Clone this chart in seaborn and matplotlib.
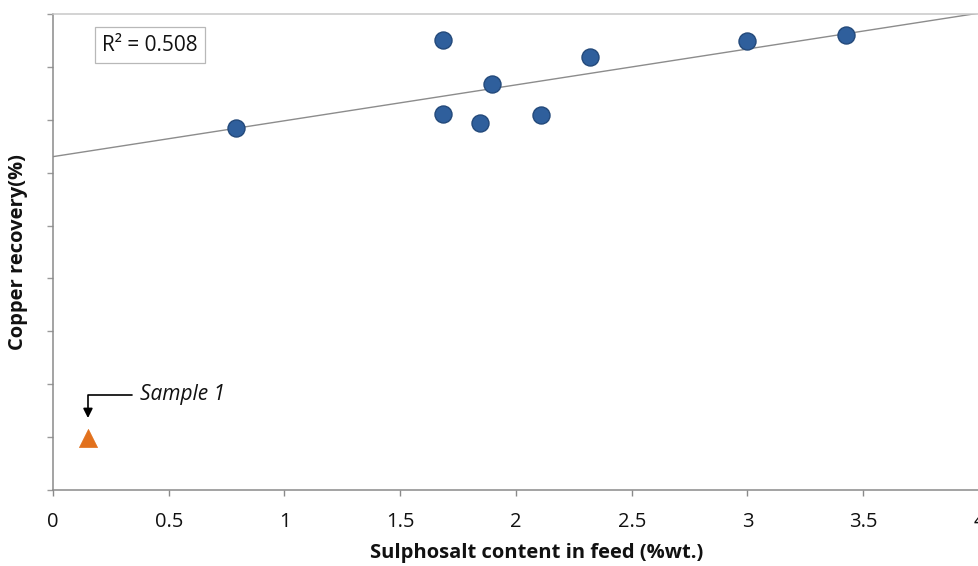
import numpy as np
import pandas as pd
import matplotlib
matplotlib.use("Agg")
import matplotlib.pyplot as plt
import seaborn as sns

# Sulphosalt content in feed (%wt.) and copper recovery (%) for the sample set
sulphosalt = [0.79, 1.685, 1.685, 1.845, 1.896, 2.108, 2.32, 3.0, 3.425]
recovery = [68.4, 85.1, 71.1, 69.4, 76.8, 70.9, 81.9, 84.9, 86.0]

# Outlier sample, excluded from the fit
sample1_x = [0.151]
sample1_y = [9.8]
sample1_label = "Sample 1"

x_ticks = [0, 0.5, 1, 1.5, 2, 2.5, 3, 3.5, 4]
x_tick_labels = ["0", "0.5", "1", "1.5", "2", "2.5", "3", "3.5", "4"]
y_ticks = list(range(0, 91, 10))

r2_text = "R\u00b2 = 0.508"

df = pd.DataFrame({"sulphosalt": sulphosalt, "recovery": recovery})
df_s1 = pd.DataFrame({"sulphosalt": sample1_x, "recovery": sample1_y})

sns.set_theme(style="white")
FONT = ["Open Sans", "DejaVu Sans"]
plt.rcParams["font.family"] = FONT

fig = plt.figure(figsize=(9.79, 5.66), dpi=100)
ax = fig.add_axes([53 / 979, 1 - 490 / 566, 1 - 53 / 979, (490 - 14) / 566])

ax.set_xlim(0, 4)
ax.set_ylim(0, 90)

# Linear trendline through the main sample set
sns.regplot(data=df, x="sulphosalt", y="recovery", scatter=False, ci=None,
            truncate=False, ax=ax,
            line_kws=dict(color="#8c8c8c", lw=1.0, zorder=2))

sns.scatterplot(data=df, x="sulphosalt", y="recovery", ax=ax, s=150,
                color="#2f5f9c", edgecolor="#23497a", linewidth=1.0, zorder=3)
sns.scatterplot(data=df_s1, x="sulphosalt", y="recovery", ax=ax, s=170,
                marker="^", color="#e2711d", edgecolor="#e2711d",
                linewidth=0.5, zorder=3)

ax.annotate(sample1_label, xy=(sample1_x[0], 13.6), xycoords="data",
            xytext=(0.375, 18.0), textcoords="data",
            ha="left", va="center", fontsize=15, style="italic",
            color="#111111",
            arrowprops=dict(arrowstyle="-|>", color="black", lw=1.2,
                            mutation_scale=14, shrinkA=3, shrinkB=0,
                            relpos=(0, 0.5),
                            connectionstyle="angle,angleA=0,angleB=90,rad=0"))

ax.text(0.419, 84.1, r2_text, ha="center", va="center", fontsize=15,
        color="#111111",
        bbox=dict(boxstyle="square,pad=0.35", fc="white", ec="#b8b8b8", lw=0.9),
        zorder=4)

ax.set_xticks(x_ticks)
ax.set_xticklabels(x_tick_labels)
ax.set_yticks(y_ticks)
ax.set_yticklabels([])

ax.tick_params(axis="x", direction="out", length=4, width=1.0, color="#8a8a8a",
               labelsize=14.5, pad=12, labelcolor="#111111", bottom=True)
ax.tick_params(axis="y", direction="out", length=4, width=1.0, color="#9a9a9a",
               left=True)

ax.set_xlabel("Sulphosalt content in feed (%wt.)", fontsize=14.5,
              fontweight="bold", color="#111111")
ax.xaxis.set_label_coords((537 - 53) / 926, -(543 - 490) / 476)
ax.set_ylabel("Copper recovery(%)", fontsize=14.5, fontweight="bold",
              color="#111111")
ax.yaxis.set_label_coords(-(53 - 28) / 926, (490 - 252) / 476)

for side in ["left", "bottom"]:
    ax.spines[side].set_color("#8a8a8a")
    ax.spines[side].set_linewidth(1.1)
ax.spines["top"].set_color("#c8c8c8")
ax.spines["top"].set_linewidth(1.1)
ax.spines["right"].set_visible(False)

ax.grid(False)
fig.savefig("out.png", dpi=100)
